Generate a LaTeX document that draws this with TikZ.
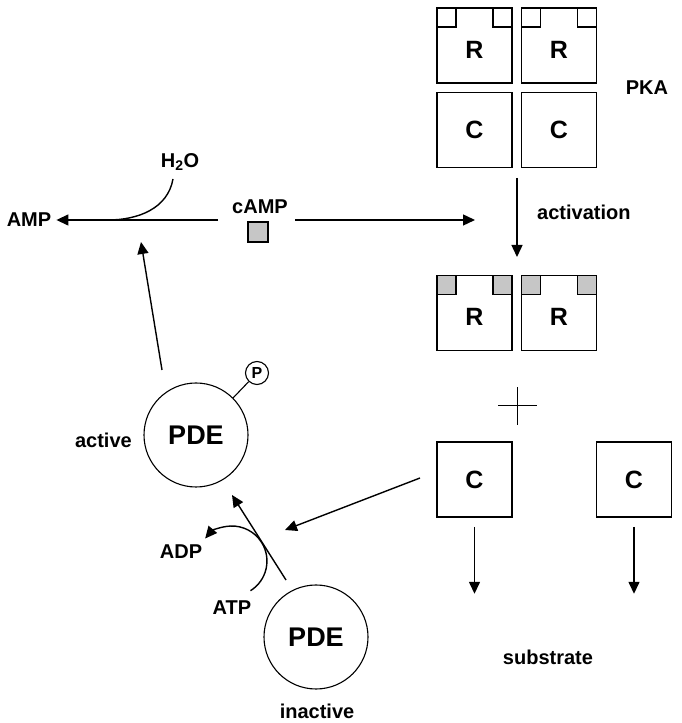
\documentclass[tikz,border=0pt]{standalone}
\usepackage{fontspec}
\setmainfont{Liberation Sans}
\usetikzlibrary{arrows.meta,positioning}

\begin{document}
\begin{tikzpicture}[x=1pt,y=1pt,
    subunit/.style={draw,fill=white,minimum size=75pt,inner sep=0pt,
                    line width=1.6pt,font=\fontsize{25}{27}\selectfont\bfseries},
    site/.style={draw,minimum size=19pt,inner sep=0pt,line width=1.4pt},
    bound/.style={site,fill=gray!45},
    enzyme/.style={draw,circle,minimum size=104pt,inner sep=0pt,line width=1.1pt,
                   font=\fontsize{27}{30}\selectfont\bfseries},
    phos/.style={draw,circle,minimum size=23pt,inner sep=0pt,line width=1.1pt,
                 font=\fontsize{16}{18}\selectfont\bfseries},
    lbl/.style={font=\fontsize{20}{22}\selectfont\bfseries,inner sep=2pt},
    arr/.style={-{Triangle[length=12pt,width=11pt]},line width=1.4pt},
    link/.style={line width=1.4pt},
]

\useasboundingbox (0,0) rectangle (682,723);

% ---- PKA holoenzyme -------------------------------------------------------
\node[subunit,text height=26pt] (rA) at (474.5,677.5) {R};
\node[subunit,text height=26pt] (rB) at (559,677.5) {R};
\node[subunit] (cA) at (474.5,593) {C};
\node[subunit] (cB) at (559,593) {C};
\foreach \s in {rA,rB}
{
    \node[site,anchor=north west] (\s-l) at (\s.north west) {};
    \node[site,anchor=north east] (\s-r) at (\s.north east) {};
}
\node[lbl] (pka) at (647,635) {PKA};

% ---- activation -----------------------------------------------------------
\coordinate (actTop) at (517,545);
\coordinate (actEnd) at (517,466);
\draw[arr] (actTop) -- (actEnd);
\node[lbl,anchor=west] (act) at (535,511) {activation};

% ---- R subunits with cAMP bound -------------------------------------------
\node[subunit,text height=26pt] (rA2) at (474.5,410) {R};
\node[subunit,text height=26pt] (rB2) at (559,410) {R};
\foreach \s in {rA2,rB2}
{
    \node[bound,anchor=north west] (\s-l) at (\s.north west) {};
    \node[bound,anchor=north east] (\s-r) at (\s.north east) {};
}

% plus
\draw[line width=1pt] (498,317) -- (537,317) (517,298) -- (517,336);

% ---- free C subunits ------------------------------------------------------
\node[subunit] (cA2) at (474.5,243.5) {C};
\node[subunit] (cB2) at (634,243.5) {C};
\foreach \s in {cA2,cB2}
{
    \coordinate[below=9pt of \s.south] (\s-top);
    \coordinate[below=76pt of \s.south] (\s-end);
    \draw[arr] (\s-top) -- (\s-end);
}
\node[lbl] (subs) at (548,66) {substrate};

% ---- cAMP and hydrolysis --------------------------------------------------
\node[bound,line width=1.2pt,minimum size=20pt] (camp) at (258,491) {};
\node[lbl] (campL) at (260,516) {cAMP};
\node[lbl,inner sep=5pt] (amp) at (29,503) {AMP};
\coordinate (hydIn) at (218,503);
\draw[arr] (hydIn) -- (amp);
\coordinate (pkaIn) at (295,503);
\coordinate (pkaTo) at (475,503);
\draw[arr] (pkaIn) -- (pkaTo);
\node[lbl] (water) at (180,561) {H\textsubscript{2}O};
\coordinate (wStart) at (173,544);
\coordinate (wJoin) at (108,503);
\draw[link] (wStart) to[out=-100,in=0] (wJoin);

% ---- PDE, active ----------------------------------------------------------
\node[enzyme] (pdeA) at (196,288) {PDE};
\node[lbl,anchor=east] (actv) at (134,283) {active};
\node[phos] (pho) at (257,350) {P};
\draw[line width=1.1pt] (pdeA.45) -- (pho);
\coordinate (aFoot) at (162,353);
\coordinate (aTip) at (141,481);
\draw[arr] (aFoot) -- (aTip);

% ---- PDE, inactive --------------------------------------------------------
\node[enzyme] (pdeI) at (316,86) {PDE};
\node[lbl] (inact) at (317,12) {inactive};
\coordinate (iFoot) at (286,143);
\coordinate (iTip) at (232,228);
\draw[arr] (iFoot) -- (iTip);
\coordinate (atpIn) at (250.5,132.3);
\draw[arr] (atpIn) arc[start angle=-58,end angle=140,radius=35pt];
\node[lbl] (adp) at (181,171) {ADP};
\node[lbl] (atp) at (232,115) {ATP};

% C phosphorylates PDE
\coordinate (cOut) at (420,245);
\coordinate (cTip) at (285,193);
\draw[arr] (cOut) -- (cTip);

\end{tikzpicture}
\end{document}
